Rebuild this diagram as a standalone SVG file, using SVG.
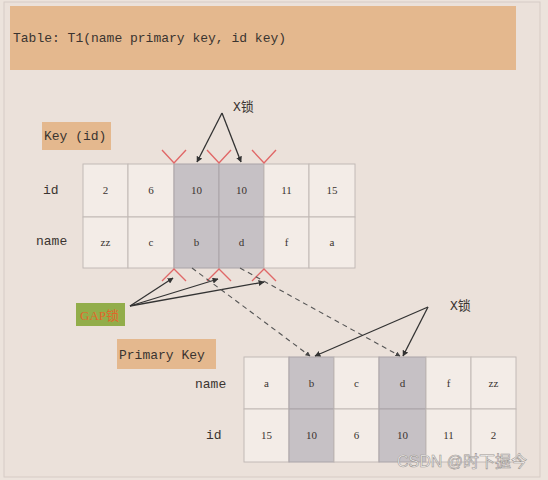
<svg xmlns="http://www.w3.org/2000/svg" width="548" height="480" viewBox="0 0 548 480">
<defs>
<style>
.mono{font-family:"Liberation Mono","Noto Sans CJK SC",monospace;font-size:13px;fill:#3a3430}
.cell{fill:#f3ece7;stroke:#c2bab6;stroke-width:1}
.hl{fill:#c6c1c5;stroke:#aaa4a8;stroke-width:1}
.ct{font-family:"Liberation Serif",serif;font-size:11px;fill:#3a3430;text-anchor:middle}
.lbl{fill:#e4b88e}
.arr{stroke:#333;stroke-width:1.3;fill:none;marker-end:url(#ah)}
.dash{stroke:#555;stroke-width:1.1;fill:none;stroke-dasharray:5 4;marker-end:url(#ah2)}
.gap{stroke:#e06868;stroke-width:1.4;fill:none}
</style>
<marker id="ah" viewBox="0 0 10 10" refX="9" refY="5" markerWidth="6" markerHeight="6" orient="auto" markerUnits="userSpaceOnUse"><path d="M0,0 L10,5 L0,10 z" fill="#333"/></marker>
<marker id="ah2" viewBox="0 0 10 10" refX="9" refY="5" markerWidth="5" markerHeight="5" orient="auto" markerUnits="userSpaceOnUse"><path d="M0,0 L10,5 L0,10 z" fill="#444"/></marker>
</defs>
<rect x="0" y="0" width="548" height="480" fill="#ece3dc"/>
<rect x="4" y="2" width="536" height="475" fill="#ebe1da" stroke="#d6cbc5" stroke-width="1"/>

<g id="header">
<rect x="10" y="6" width="506" height="64" class="lbl"/>
<text x="13" y="42" class="mono">Table: T1(name primary key, id key)</text>
</g>

<g id="key-id-label">
<rect x="42" y="122" width="69" height="28" class="lbl"/>
<text x="44" y="140" class="mono">Key (id)</text>
</g>

<g id="key-table">
<text x="43" y="194" class="mono">id</text>
<text x="36" y="245" class="mono">name</text>
<rect x="83" y="164" width="45" height="53" class="cell"/>
<rect x="128" y="164" width="46" height="53" class="cell"/>
<rect x="174" y="164" width="45" height="53" class="hl"/>
<rect x="219" y="164" width="45" height="53" class="hl"/>
<rect x="264" y="164" width="45" height="53" class="cell"/>
<rect x="309" y="164" width="46" height="53" class="cell"/>
<rect x="83" y="217" width="45" height="51" class="cell"/>
<rect x="128" y="217" width="46" height="51" class="cell"/>
<rect x="174" y="217" width="45" height="51" class="hl"/>
<rect x="219" y="217" width="45" height="51" class="hl"/>
<rect x="264" y="217" width="45" height="51" class="cell"/>
<rect x="309" y="217" width="46" height="51" class="cell"/>
<text x="105.5" y="194" class="ct">2</text>
<text x="151" y="194" class="ct">6</text>
<text x="196.5" y="194" class="ct">10</text>
<text x="241.5" y="194" class="ct">10</text>
<text x="286.5" y="194" class="ct">11</text>
<text x="332" y="194" class="ct">15</text>
<text x="105.5" y="246" class="ct">zz</text>
<text x="151" y="246" class="ct">c</text>
<text x="196.5" y="246" class="ct">b</text>
<text x="241.5" y="246" class="ct">d</text>
<text x="286.5" y="246" class="ct">f</text>
<text x="332" y="246" class="ct">a</text>
</g>

<g id="gap-marks">
<path class="gap" d="M162,150 L174,163 L186,150"/>
<path class="gap" d="M207,150 L219,163 L231,150"/>
<path class="gap" d="M252,150 L264,163 L276,150"/>
<path class="gap" d="M162,281 L174,269 L186,281"/>
<path class="gap" d="M207,281 L219,269 L231,281"/>
<path class="gap" d="M252,281 L264,269 L276,281"/>
</g>

<g id="x-lock-top">
<text x="233" y="111" class="mono">X锁</text>
</g>

<g id="gap-lock">
<rect x="76" y="303" width="49" height="23" fill="#92ad4a"/>
<text x="80" y="320" style="font-family:'Liberation Serif','Noto Sans CJK SC',serif;font-size:13px;fill:#e2652a">GAP锁</text>
</g>

<g id="primary-key-label">
<rect x="117" y="339" width="99" height="30" class="lbl"/>
<text x="119" y="359" class="mono">Primary Key</text>
</g>

<g id="pk-table">
<text x="195" y="388" class="mono">name</text>
<text x="206" y="439" class="mono">id</text>
<rect x="244" y="357" width="45" height="52" class="cell"/>
<rect x="289" y="357" width="45" height="52" class="hl"/>
<rect x="334" y="357" width="45" height="52" class="cell"/>
<rect x="379" y="357" width="47" height="52" class="hl"/>
<rect x="426" y="357" width="45" height="52" class="cell"/>
<rect x="471" y="357" width="45" height="52" class="cell"/>
<rect x="244" y="409" width="45" height="53" class="cell"/>
<rect x="289" y="409" width="45" height="53" class="hl"/>
<rect x="334" y="409" width="45" height="53" class="cell"/>
<rect x="379" y="409" width="47" height="53" class="hl"/>
<rect x="426" y="409" width="45" height="53" class="cell"/>
<rect x="471" y="409" width="45" height="53" class="cell"/>
<text x="266.5" y="387" class="ct">a</text>
<text x="311.5" y="387" class="ct">b</text>
<text x="356.5" y="387" class="ct">c</text>
<text x="402.5" y="387" class="ct">d</text>
<text x="448.5" y="387" class="ct">f</text>
<text x="493.5" y="387" class="ct">zz</text>
<text x="266.5" y="439" class="ct">15</text>
<text x="311.5" y="439" class="ct">10</text>
<text x="356.5" y="439" class="ct">6</text>
<text x="402.5" y="439" class="ct">10</text>
<text x="448.5" y="439" class="ct">11</text>
<text x="493.5" y="439" class="ct">2</text>
</g>

<g id="x-lock-bottom">
<text x="450" y="310" class="mono">X锁</text>
</g>

<g id="connectors">
<path class="arr" d="M222,113 L197,162"/>
<path class="arr" d="M222,113 L241,162"/>
<path class="arr" d="M130,306 L173,278"/>
<path class="arr" d="M130,306 L218,279"/>
<path class="arr" d="M130,306 L264,282"/>
<path class="dash" d="M192,268 L310,356"/>
<path class="dash" d="M240,268 L400,356"/>
<path class="arr" d="M428,307 L315,356"/>
<path class="arr" d="M428,307 L403,356"/>
</g>

<g id="watermark">
<text x="397" y="467" style="font-family:'Liberation Sans','Noto Sans CJK SC',sans-serif;font-size:16px;fill:#ffffff;fill-opacity:0.9;stroke:#9a9490;stroke-width:0.6">CSDN @时下握今</text>
</g>
</svg>
